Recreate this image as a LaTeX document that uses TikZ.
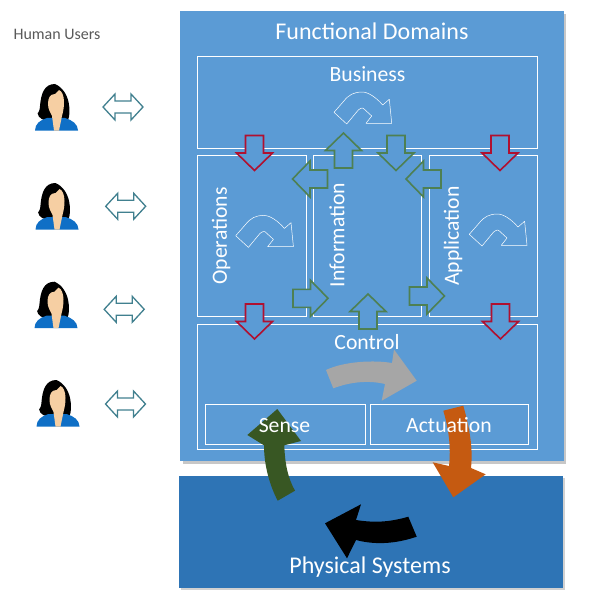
\documentclass[tikz,border=0pt]{standalone}
\usepackage{fontspec}
\setmainfont{Carlito}
\usetikzlibrary{calc}
\definecolor{panel}{HTML}{5B9BD5}
\definecolor{phys}{HTML}{2E74B5}
\definecolor{redarrow}{HTML}{B01030}
\definecolor{greenarrow}{HTML}{4E8052}
\definecolor{teal}{HTML}{41808F}
\definecolor{darkgreen}{HTML}{385723}
\definecolor{burnt}{HTML}{C55A11}
\definecolor{usergray}{HTML}{595959}
\definecolor{skin}{HTML}{F6CFA3}
\definecolor{shirt}{HTML}{0F6FC6}
\tikzset{
  domainbox/.style={draw=white,line width=1.4pt,fill=none,anchor=north west,inner sep=0pt},
  subbox/.style={draw=white,line width=1.1pt,fill=none,anchor=north west,inner sep=0pt},
  lab/.style={text=white,inner sep=0pt,font=\fontsize{21.7}{21.7}\selectfont},
  biglab/.style={text=white,inner sep=0pt,font=\fontsize{24}{24}\selectfont},
  blockred/.style={draw=redarrow,line width=1.6pt,fill=panel,line join=miter},
  blockgreen/.style={draw=greenarrow,line width=1.6pt,fill=panel,line join=miter},
}
% centre x, centre y, rotation (0 = pointing down in the picture), style
\newcommand{\blockarrow}[4]{%
  \draw[#4,shift={(#1,#2)},rotate=#3]
    (-9,-17.5)--(9,-17.5)--(9,0)--(18,0)--(0,17.5)--(-18,0)--(-9,0)--cycle;}
\newcommand{\uturn}[2]{%
  \draw[white,line width=0.5pt,fill=none,shift={(#1,#2)},line join=round]
    (0,0)--(12.7,11.7)--(24.3,-2.3) .. controls (27,-4.5) and (29,-4.5) .. (29.3,-4)
    --(37.7,3.7)--(32,11)--(57.7,11)--(55.3,-13)--(48.7,-7.3)
    .. controls (42,-15) and (34,-20.5) .. (27.7,-20.3)
    .. controls (20,-20) and (15,-18) .. (9.3,-10.6)--cycle;}
\newcommand{\person}[2]{%
  \begin{scope}[shift={(#1,#2)}]
    \fill[black] (-1,-32) .. controls (-12,-32) and (-15,-22) .. (-16,-10)
      .. controls (-16,-6) and (-18,-2) .. (-18.5,-3)
      .. controls (-18,2) and (-12,5) .. (-9,4) -- (12,4)
      .. controls (15,-2) and (15,-25) .. (-1,-32) -- cycle;
    \fill[shirt] (-21,14.5) .. controls (-21,8) and (-16,4) .. (-9,2)
      -- (9,2) .. controls (16,4) and (22,8) .. (22,14.5) -- cycle;
    \fill[skin] (-1,-22) .. controls (-6,-22) and (-8,-18) .. (-8,-12)
      .. controls (-8,-6) and (-5,-3) .. (-4,0) -- (-2,14.5) -- (3,14.5) -- (6,0)
      .. controls (7,-4) and (8,-8) .. (8,-14) .. controls (8,-20) and (6,-25) .. (3,-26) -- cycle;
  \end{scope}}
\newcommand{\dblarrow}[2]{%
  \draw[teal,line width=1.3pt,fill=white,shift={(#1,#2)},line join=miter]
    (-20,0)--(-8,-13)--(-8,-6)--(8,-6)--(8,-13)--(20,0)--(8,13)--(8,6)--(-8,6)--(-8,13)--cycle;}
\begin{document}
\begin{tikzpicture}[x=1pt,y=-1pt]
  \useasboundingbox (0,0) rectangle (590,591);
  \fill[white] (0,0) rectangle (590,591);
  % shadows and panels
  \fill[black!22] (183,14) rectangle (566,464);
  \fill[panel] (180,11) rectangle (564,461);
  \fill[black!18] (181,478) rectangle (565,590);
  \fill[phys] (179,476) rectangle (563,588);
  % boxes
  \node[domainbox,minimum width=340pt,minimum height=92pt] (business) at (197,56) {};
  \node[domainbox,minimum width=109pt,minimum height=161pt] (operations) at (197,155) {};
  \node[domainbox,minimum width=108pt,minimum height=161pt] (information) at (313,155) {};
  \node[domainbox,minimum width=108pt,minimum height=161pt] (application) at (429,155) {};
  \node[domainbox,minimum width=340pt,minimum height=125pt] (control) at (197,324) {};
  \node[subbox,minimum width=160pt,minimum height=40pt] (sense) at (205,404) {};
  \node[subbox,minimum width=158pt,minimum height=40pt] (actuation) at (370,404) {};
  % u-turn arrows
  \uturn{334}{112.3}
  \uturn{235.7}{235.7}
  \uturn{469.3}{234.3}
  % gray arrow
  \fill[black!35] (326,370) .. controls (345,361) and (375,360) .. (392,363) -- (394,349.5)
    -- (416.7,380.7) -- (381.7,400.7) -- (385,384) .. controls (368,380) and (350,382) .. (333.3,388.3) -- cycle;
  % block arrows
  \blockarrow{254.5}{153}{0}{blockred}
  \blockarrow{500}{153}{0}{blockred}
  \blockarrow{254.5}{321.5}{0}{blockred}
  \blockarrow{500.5}{321.5}{0}{blockred}
  \blockarrow{343.5}{150.5}{180}{blockgreen}
  \blockarrow{396}{153}{0}{blockgreen}
  \blockarrow{310}{179}{-90}{blockgreen}
  \blockarrow{423.5}{179}{-90}{blockgreen}
  \blockarrow{310.5}{298.3}{90}{blockgreen}
  \blockarrow{427}{296}{90}{blockgreen}
  \blockarrow{368}{311.5}{180}{blockgreen}
  % thick curved arrows
  \fill[darkgreen]
    (277.3,409) -- (301,441) -- (284.3,445.3) .. controls (285,465) and (288,478) .. (295,490.7)
    -- (277.7,500.7) .. controls (268,482) and (264,462) .. (264,445.3) -- (247.3,435) -- cycle;
  \fill[black] (408.3,516.7) -- (416.7,536.7) .. controls (395,544) and (375,545) .. (356,540)
    -- (347,558.3) -- (325,523.3) -- (361,504.3) -- (356,520) .. controls (375,523) and (390,522) .. (408.3,516.7) -- cycle;
  % labels
  \node[biglab] (tfd) at (372,31) {Functional Domains};
  \node[lab] (tbus) at (367.5,74) {Business};
  \node[lab,rotate=90] (tops) at (221,236) {Operations};
  \node[lab,rotate=90] (tinf) at (337,235) {Information};
  \node[lab,rotate=90] (tapp) at (453,236) {Application};
  \node[lab] (tctl) at (367,342.5) {Control};
  \node[lab] (tsen) at (284.5,425.5) {Sense};
  % orange arrow (under the Actuation text)
  \fill[burnt] (443.3,410.7) -- (463.3,405.7) .. controls (470,430) and (473,448) .. (471,468)
    -- (485.7,474.3) -- (453.3,497.3) -- (432.7,462.3) -- (449,466) .. controls (451,448) and (449,430) .. (443.3,410.7) -- cycle;
  \node[lab] (tact) at (449,425.5) {Actuation};
  \node[biglab] (tphy) at (370,567) {Physical Systems};
  \node[text=usergray,inner sep=0pt,font=\fontsize{16}{16}\selectfont] (thum) at (57,34) {Human Users};
  % users
  \person{56}{116}
  \person{56.5}{215}
  \person{55.5}{313.7}
  \person{57.5}{412}
  \dblarrow{123}{107}
  \dblarrow{125.7}{206.3}
  \dblarrow{124.2}{309.3}
  \dblarrow{125.5}{404}
\end{tikzpicture}
\end{document}
